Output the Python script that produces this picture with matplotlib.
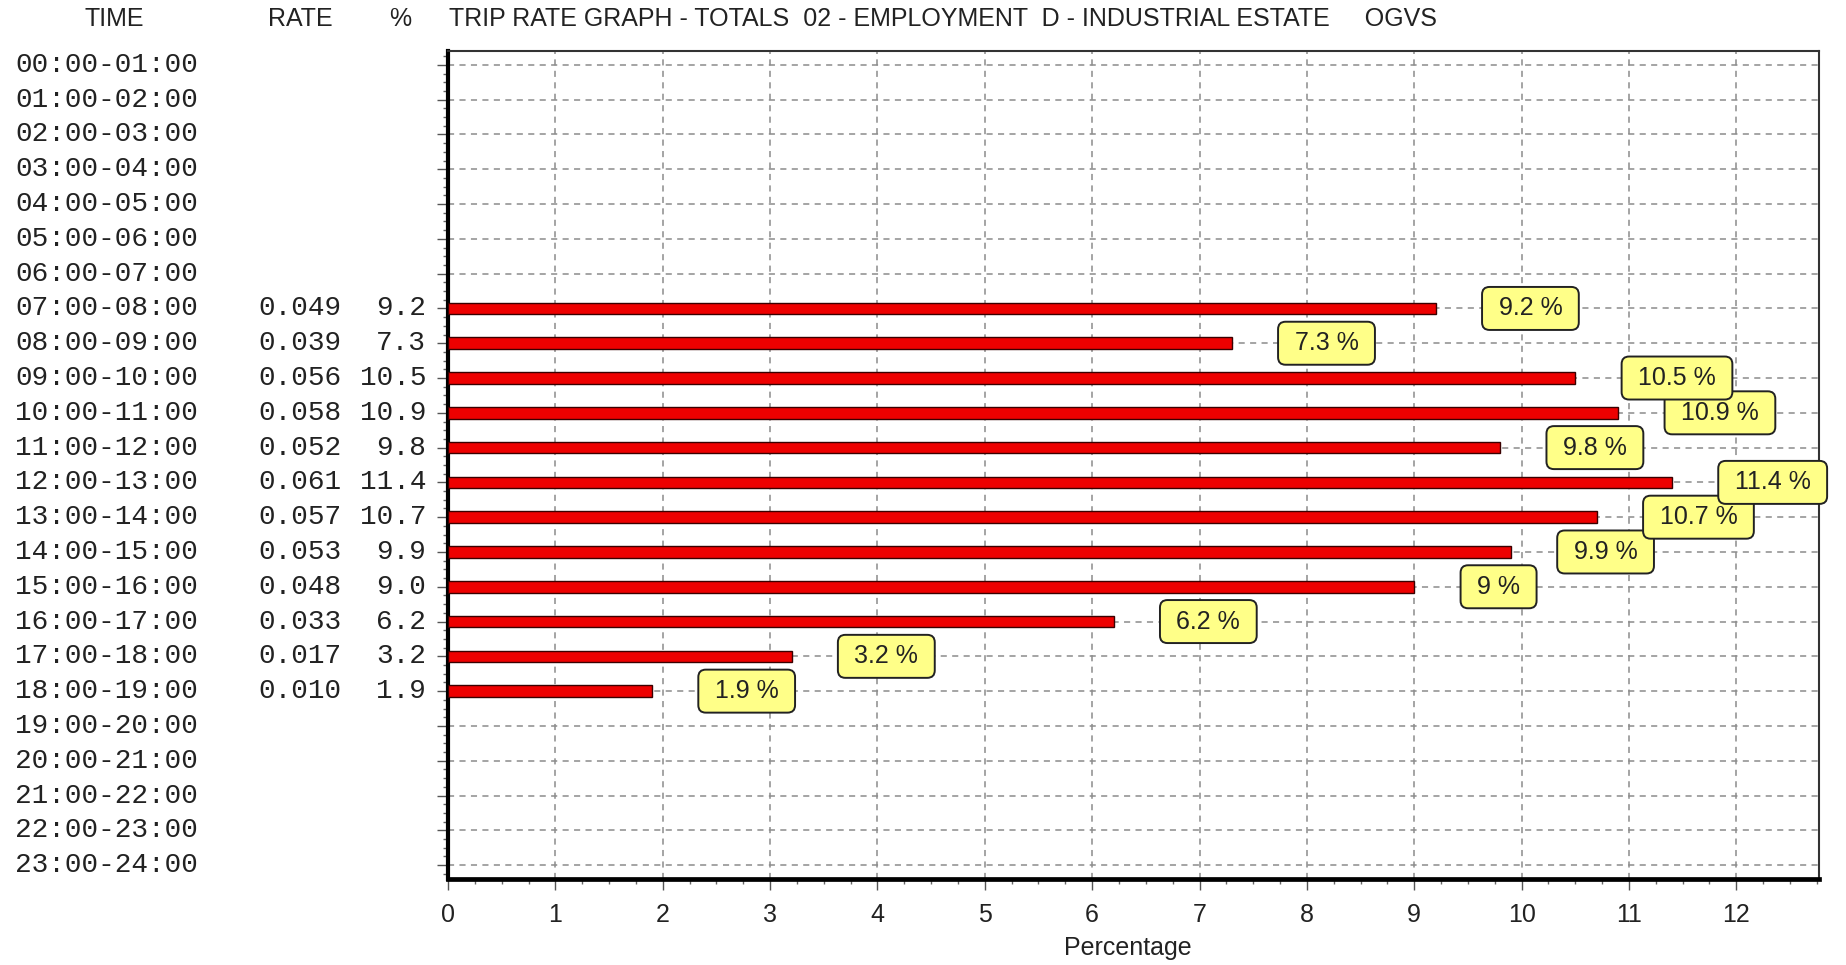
import matplotlib
matplotlib.use('Agg')
import matplotlib.pyplot as plt
from matplotlib.ticker import MultipleLocator
from matplotlib.transforms import blended_transform_factory

# Trip rate table (empty hours have no entry)
hours = ['00:00-01:00', '01:00-02:00', '02:00-03:00', '03:00-04:00',
         '04:00-05:00', '05:00-06:00', '06:00-07:00', '07:00-08:00',
         '08:00-09:00', '09:00-10:00', '10:00-11:00', '11:00-12:00',
         '12:00-13:00', '13:00-14:00', '14:00-15:00', '15:00-16:00',
         '16:00-17:00', '17:00-18:00', '18:00-19:00', '19:00-20:00',
         '20:00-21:00', '21:00-22:00', '22:00-23:00', '23:00-24:00']
first_row = 7  # 07:00-08:00
rate = ['0.049', '0.039', '0.056', '0.058', '0.052', '0.061',
        '0.057', '0.053', '0.048', '0.033', '0.017', '0.010']
pct = [9.2, 7.3, 10.5, 10.9, 9.8, 11.4, 10.7, 9.9, 9.0, 6.2, 3.2, 1.9]

title = 'TRIP RATE GRAPH - TOTALS  02 - EMPLOYMENT  D - INDUSTRIAL ESTATE     OGVS'

W, H = 1846, 965
fig = plt.figure(figsize=(W / 100, H / 100), dpi=100)
ax = fig.add_axes([448 / W, 1 - 879 / H, (1819 - 448) / W, (879 - 51) / H])

sans = ['Liberation Sans', 'DejaVu Sans']
mono = ['Liberation Mono', 'DejaVu Sans Mono']

rows = [first_row + i for i in range(len(pct))]
ax.barh(rows, pct, height=0.33, color='#ee0000', edgecolor='#3a0000',
        linewidth=1, zorder=3)

# yellow value boxes, earlier rows drawn on top
for i, (r, v) in enumerate(zip(rows, pct)):
    ax.text(v + 0.52, r, ' %g %% ' % v, ha='left', va='center',
            fontsize=18, family=sans, color='#222222', zorder=50 - i,
            bbox=dict(boxstyle='round,pad=0.38,rounding_size=0.3',
                      fc='#ffff88', ec='#222222', lw=1.4))

ax.set_xlim(0, 12.77)
ax.set_ylim(23.4, -0.4)
ax.xaxis.set_major_locator(MultipleLocator(1))
ax.xaxis.set_minor_locator(MultipleLocator(0.25))
ax.yaxis.set_major_locator(MultipleLocator(1))
ax.yaxis.set_minor_locator(MultipleLocator(0.25))
ax.set_xticks(range(13))
ax.set_xticklabels([str(k) for k in range(13)], fontsize=18, family=sans,
                   color='#222222')
ax.set_yticklabels([])
ax.tick_params(axis='x', which='major', length=8, width=1, pad=9,
               color='#555555')
ax.tick_params(axis='y', which='major', length=8, width=1, color='#555555')
ax.tick_params(which='minor', length=3.5, width=1, color='#666666')
ax.grid(True, which='major', color='#8c8c8c', linestyle=(0, (4, 3.5)),
        linewidth=1.1, zorder=1)
ax.set_axisbelow(True)

for side, lw, col in [('left', 3, 'black'), ('bottom', 3.4, 'black'),
                      ('top', 1.5, '#333333'), ('right', 1.5, '#333333')]:
    ax.spines[side].set_linewidth(lw)
    ax.spines[side].set_color(col)

# left hand table
tr = blended_transform_factory(fig.transFigure, ax.transData)
for r, label in enumerate(hours):
    ax.text(15 / W, r, label, transform=tr, ha='left', va='center',
            fontsize=20, family=mono, color='#222222', clip_on=False)
for r, rt, p in zip(rows, rate, pct):
    ax.text(341 / W, r, rt, transform=tr, ha='right', va='center',
            fontsize=20, family=mono, color='#222222', clip_on=False)
    ax.text(426 / W, r, '%.1f' % p, transform=tr, ha='right', va='center',
            fontsize=20, family=mono, color='#222222', clip_on=False)

# header line
hy = 1 - 19 / H
fig.text(114 / W, hy, 'TIME', ha='center', va='center', fontsize=18,
         family=sans, color='#222222')
fig.text(300 / W, hy, 'RATE', ha='center', va='center', fontsize=18,
         family=sans, color='#222222')
fig.text(400 / W, hy, '%', ha='center', va='center', fontsize=18,
         family=sans, color='#222222')
fig.text(449 / W, hy, title, ha='left', va='center', fontsize=18,
         family=sans, color='#222222')

fig.text(1128 / W, 1 - 948 / H, 'Percentage', ha='center', va='center',
         fontsize=18, family=sans, color='#222222')

fig.savefig('out.png', dpi=100, facecolor='white')
